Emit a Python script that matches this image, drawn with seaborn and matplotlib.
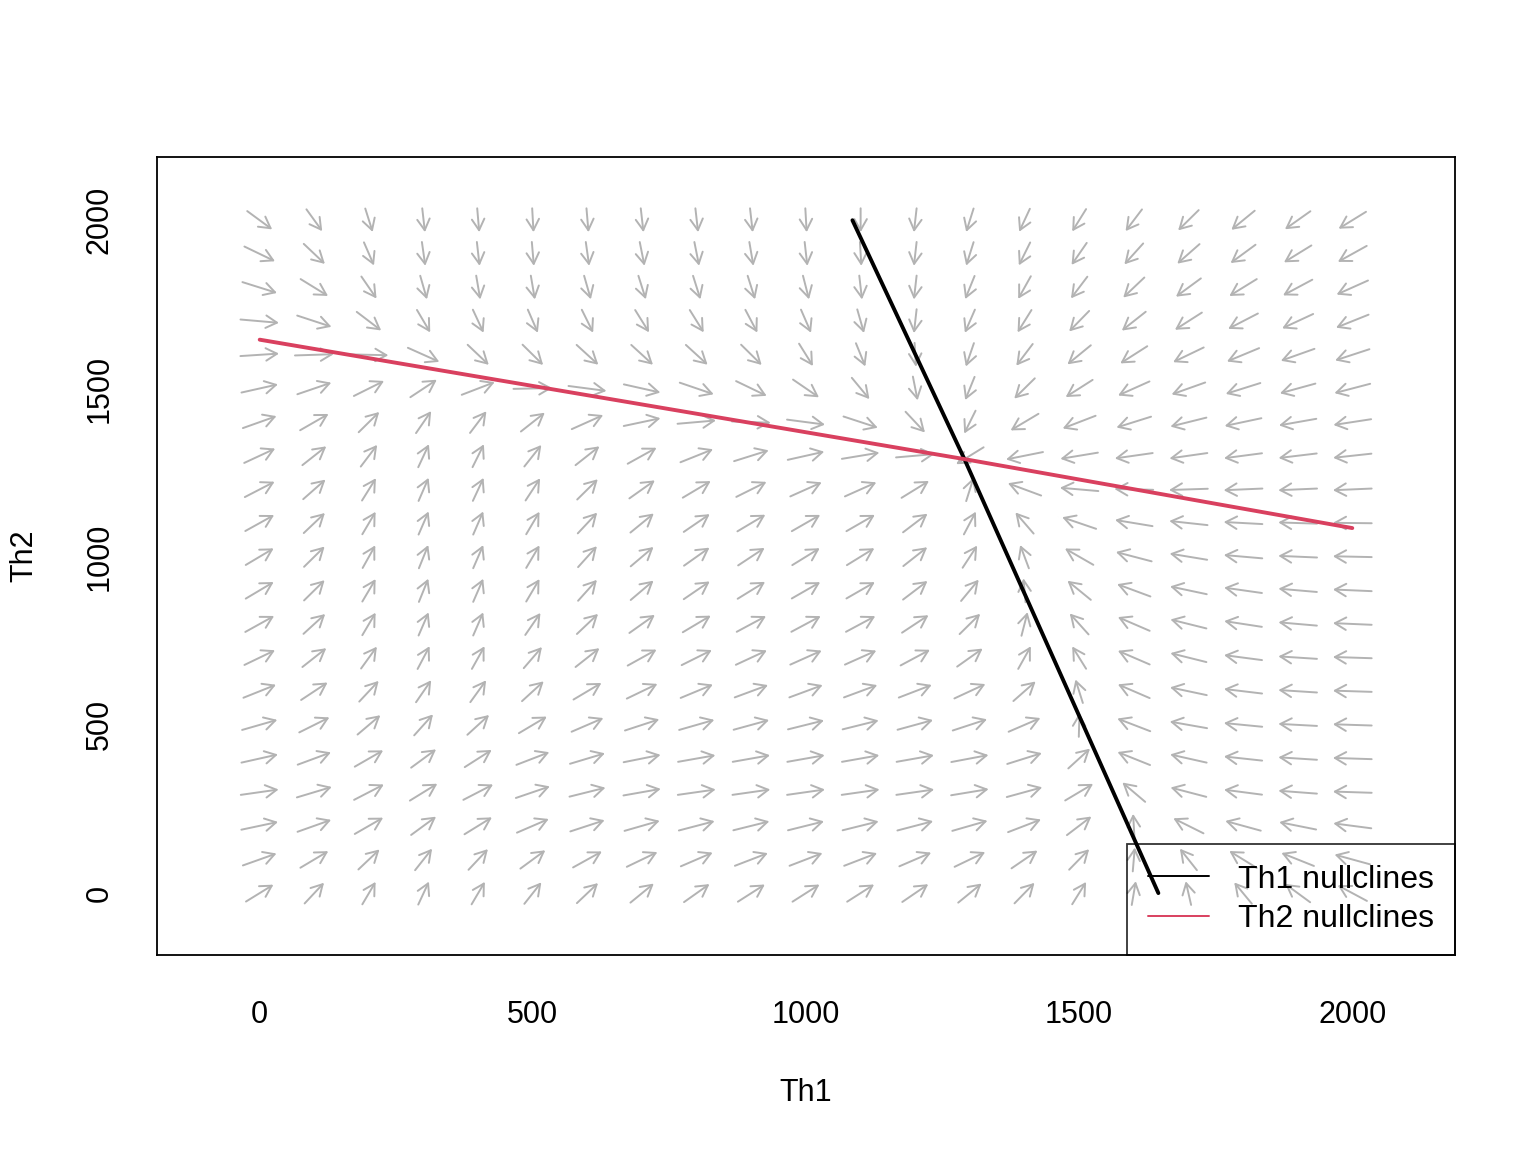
import numpy as np
import pandas as pd
import matplotlib
matplotlib.use("Agg")
import matplotlib.pyplot as plt
from matplotlib.lines import Line2D
import seaborn as sns

# grid of the direction field (Th1 on x, Th2 on y)
grid = [0, 100, 200, 300, 400, 500, 600, 700, 800, 900, 1000,
        1100, 1200, 1300, 1400, 1500, 1600, 1700, 1800, 1900, 2000]

# arrow direction (degrees, data space) along each Th2 level, Th1 = 0..2000
ang_0 = [45, 60, 70, 74, 70, 64, 57, 53, 49, 46, 46, 46, 48, 53, 59, 69, 84, 98, 117, 130, 139]
ang_100 = [30, 44, 57, 64, 60, 50, 42, 38, 35, 32, 32, 32, 35, 38, 48, 59, 87, 116, 135, 147, 156]
ang_200 = [19, 30, 43, 50, 45, 35, 28, 25, 23, 22, 22, 22, 23, 25, 32, 51, 92, 141, 156, 162, 168]
ang_300 = [13, 26, 40, 45, 40, 29, 22, 16, 13, 13, 13, 13, 13, 15, 24, 44, 126, 157, 168, 173, 177]
ang_400 = [20, 31, 43, 50, 46, 32, 26, 18, 16, 16, 16, 16, 16, 17, 27, 56, 147, 160, 170, 174, 177]
ang_500 = [25, 39, 54, 61, 56, 44, 35, 28, 25, 24, 22, 22, 24, 28, 35, 89, 148, 164, 171, 175, 177]
ang_600 = [33, 47, 60, 67, 66, 56, 44, 38, 34, 31, 31, 31, 32, 37, 55, 101, 145, 161, 169, 174, 177]
ang_700 = [38, 52, 66, 72, 71, 62, 52, 42, 39, 37, 36, 36, 41, 49, 71, 111, 145, 158, 168, 174, 177]
ang_800 = [42, 56, 70, 75, 75, 67, 57, 49, 44, 41, 41, 41, 47, 58, 81, 119, 145, 158, 166, 172, 176]
ang_900 = [44, 58, 70, 76, 75, 70, 61, 54, 48, 45, 43, 43, 51, 63, 93, 127, 149, 161, 167, 172, 176]
ang_1000 = [44, 58, 71, 76, 75, 70, 61, 54, 49, 47, 45, 45, 52, 68, 103, 137, 157, 165, 172, 176, 178]
ang_1100 = [42, 57, 70, 75, 75, 70, 60, 53, 48, 44, 43, 43, 51, 72, 118, 151, 165, 170, 175, 177, 179]
ang_1200 = [40, 55, 69, 75, 74, 68, 58, 49, 44, 39, 36, 36, 45, 79, 149, 172, 178, -177, -176, -176, -176]
ang_1300 = [37, 52, 65, 74, 73, 64, 52, 42, 33, 27, 20, 15, 8, -135, -162, -165, -167, -167, -168, -169, -170]
ang_1400 = [30, 43, 58, 67, 65, 52, 36, 19, 8, -3, -12, -28, -60, -107, -136, -148, -153, -158, -161, -164, -166]
ang_1500 = [20, 29, 39, 47, 32, 2, -12, -20, -29, -38, -48, -63, -83, -104, -122, -134, -144, -150, -153, -156, -157]
ang_1600 = [6, 3, -2, -36, -57, -58, -56, -56, -56, -58, -69, -76, -88, -102, -115, -127, -134, -142, -146, -150, -152]
ang_1700 = [-8, -28, -51, -70, -74, -75, -73, -69, -69, -72, -75, -80, -94, -105, -111, -121, -128, -134, -140, -143, -147]
ang_1800 = [-27, -45, -67, -80, -84, -84, -80, -79, -79, -79, -81, -86, -94, -104, -109, -115, -123, -130, -135, -139, -144]
ang_1900 = [-38, -57, -75, -85, -86, -87, -85, -83, -83, -84, -86, -88, -94, -101, -107, -113, -119, -125, -130, -135, -138]
ang_2000 = [-50, -66, -79, -86, -87, -88, -87, -86, -86, -86, -88, -90, -94, -101, -106, -111, -115, -122, -127, -131, -135]

# nullclines
th1_null_x = [1085, 1290, 1645]
th1_null_y = [2000, 1290, 0]
th2_null_x = [0, 1290, 2000]
th2_null_y = [1645, 1290, 1085]

x_ticks = [0, 500, 1000, 1500, 2000]
y_ticks = [0, 500, 1000, 1500, 2000]
legend_labels = ["Th1 nullclines", "Th2 nullclines"]

angle_rows = [ang_0, ang_100, ang_200, ang_300, ang_400, ang_500, ang_600,
              ang_700, ang_800, ang_900, ang_1000, ang_1100, ang_1200,
              ang_1300, ang_1400, ang_1500, ang_1600, ang_1700, ang_1800,
              ang_1900, ang_2000]

rows = []
for th2, row in zip(grid, angle_rows):
    for th1, a in zip(grid, row):
        rows.append((th1, th2, a))
field = pd.DataFrame(rows, columns=["Th1", "Th2", "angle"])

RED = "#D9405F"

sns.set_style("white")
plt.rcParams['font.family'] = ['Liberation Sans', 'DejaVu Sans']
plt.rcParams['font.size'] = 22
plt.rcParams['text.color'] = 'black'
plt.rcParams['axes.labelcolor'] = 'black'
plt.rcParams['xtick.color'] = 'black'
plt.rcParams['ytick.color'] = 'black'

fig, ax = plt.subplots(figsize=(15.36, 11.52), dpi=100)
fig.subplots_adjust(left=157/1536, right=1455/1536, bottom=1-955/1152, top=1-157/1152)

# direction field, fixed arrow length centred on the grid point
half = 35.5
rad = np.deg2rad(field["angle"].values)
for x0, y0, c, s in zip(field["Th1"], field["Th2"], np.cos(rad), np.sin(rad)):
    ax.annotate("", xy=(x0 + half * c, y0 + half * s),
                xytext=(x0 - half * c, y0 - half * s),
                arrowprops=dict(arrowstyle="->,head_length=0.8,head_width=0.45",
                                color="#B3B3B3", lw=1.4, shrinkA=0, shrinkB=0,
                                mutation_scale=10))

null1 = pd.DataFrame({"Th1": th1_null_x, "Th2": th1_null_y})
null2 = pd.DataFrame({"Th1": th2_null_x, "Th2": th2_null_y})
sns.lineplot(data=null1, x="Th1", y="Th2", sort=False, estimator=None,
             color="black", linewidth=2.8, ax=ax, zorder=3)
sns.lineplot(data=null2, x="Th1", y="Th2", sort=False, estimator=None,
             color=RED, linewidth=2.8, ax=ax, zorder=3)

ax.set_xlim(-188, 2188)
ax.set_ylim(-184, 2188)
ax.set_xticks(x_ticks)
ax.set_yticks(y_ticks)
ax.set_yticklabels([str(v) for v in y_ticks], rotation=90, va="center")
ax.tick_params(axis="both", direction="out", length=14.4, width=1.3,
               color="black", labelcolor="black", labelsize=22)
ax.tick_params(axis="x", pad=18)
ax.tick_params(axis="y", pad=16)
for sp in ax.spines.values():
    sp.set_color("black")
    sp.set_linewidth(1.3)

ax.set_xlabel("Th1", fontsize=22, color="black")
ax.set_ylabel("Th2", fontsize=22, color="black")
ax.xaxis.set_label_coords(0.5, -0.173)
ax.xaxis.label.set_va("center")
ax.yaxis.set_label_coords(-0.102, 0.5)
ax.yaxis.label.set_va("center")

handles = [Line2D([], [], color="black", lw=1.4),
           Line2D([], [], color=RED, lw=1.4)]
leg = ax.legend(handles, legend_labels, loc="lower right", borderaxespad=0,
                fancybox=False, frameon=True, fontsize=23, handlelength=1.9,
                handletextpad=0.93, labelspacing=0.3, borderpad=0.65)
for t in leg.get_texts():
    t.set_color("black")
leg.get_frame().set_edgecolor("black")
leg.get_frame().set_facecolor("none")
leg.get_frame().set_linewidth(1.3)
leg.set_zorder(5)

fig.savefig("out.png", dpi=100)
